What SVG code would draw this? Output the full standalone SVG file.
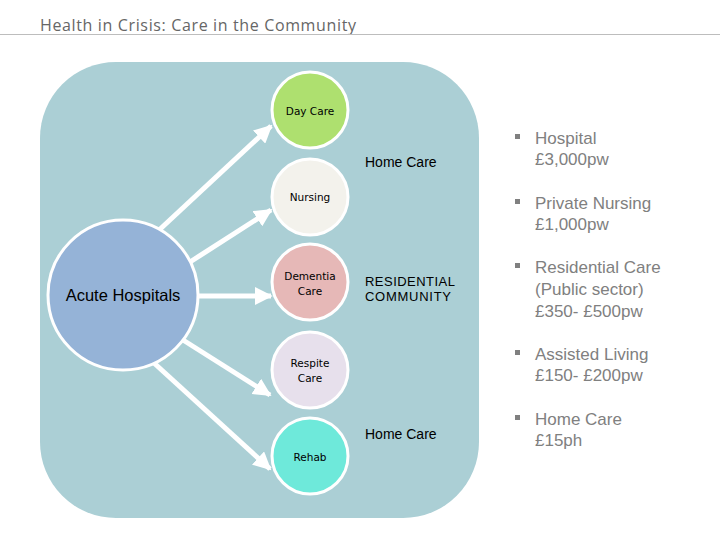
<svg xmlns="http://www.w3.org/2000/svg" width="720" height="540" viewBox="0 0 720 540">
<defs>
<style>
.node{stroke:#ffffff;stroke-width:3}
.lbl{font-family:"DejaVu Sans",Verdana,sans-serif;font-size:10.5px;fill:#000;text-anchor:middle}
.mid{font-family:"Liberation Sans",Arial,sans-serif;font-size:14px;fill:#000}
.res{font-family:"Liberation Sans",Arial,sans-serif;font-size:13px;fill:#000}
.bul{font-family:"Liberation Sans",Arial,sans-serif;font-size:17px;fill:#808080}
.conn line{stroke:#ffffff;stroke-width:5}
</style>
<marker id="ah" viewBox="0 0 10 10" refX="9" refY="5" markerWidth="3.6" markerHeight="3.6" orient="auto" markerUnits="strokeWidth">
<path d="M0,0 L10,5 L0,10 z" fill="#ffffff"/>
</marker>
</defs>
<rect width="720" height="540" fill="#ffffff"/>
<text x="40" y="31" font-family="'Open Sans','Liberation Sans',sans-serif" font-size="16" fill="#666666" textLength="316">Health in Crisis: Care in the Community</text>
<line x1="0" y1="34.5" x2="720" y2="34.5" stroke="#bdbdbd" stroke-width="1"/>
<rect id="background" x="40" y="62" width="439" height="456" rx="76" ry="76" fill="#abcfd5"/>
<g id="connectors" class="conn">
<line x1="157" y1="232" x2="271" y2="126" marker-end="url(#ah)"/>
<line x1="190" y1="262" x2="271" y2="210" marker-end="url(#ah)"/>
<line x1="199" y1="296" x2="271" y2="296" marker-end="url(#ah)"/>
<line x1="183" y1="340" x2="270" y2="395" marker-end="url(#ah)"/>
<line x1="154" y1="363" x2="270" y2="469" marker-end="url(#ah)"/>
</g>
<g id="acute"><circle class="node" cx="123" cy="295" r="75" fill="#95b3d7"/><text x="123" y="301" font-family="'Liberation Sans',Arial,sans-serif" font-size="16.5" text-anchor="middle" fill="#000">Acute Hospitals</text></g>
<g id="daycare"><circle class="node" cx="310" cy="110" r="38" fill="#aee06f"/><text class="lbl" x="310" y="115">Day Care</text></g>
<g id="nursing"><circle class="node" cx="310" cy="197" r="38" fill="#f3f2ec"/><text class="lbl" x="310" y="201">Nursing</text></g>
<g id="dementia"><circle class="node" cx="310" cy="282" r="38" fill="#e6b8b7"/><text class="lbl" x="310" y="280">Dementia</text><text class="lbl" x="310" y="295">Care</text></g>
<g id="respite"><circle class="node" cx="310" cy="370" r="38" fill="#e7e0ec"/><text class="lbl" x="310" y="367">Respite</text><text class="lbl" x="310" y="382">Care</text></g>
<g id="rehab"><circle class="node" cx="310" cy="456" r="38" fill="#6ee9da"/><text class="lbl" x="310" y="461">Rehab</text></g>
<g id="labels">
<text class="mid" x="365" y="167">Home Care</text>
<text class="res" x="365" y="286" textLength="90">RESIDENTIAL</text>
<text class="res" x="365" y="301" textLength="86">COMMUNITY</text>
<text class="mid" x="365" y="439">Home Care</text>
</g>
<g id="costs">
<rect x="515" y="134" width="5" height="5" fill="#808080"/>
<text class="bul" x="535" y="144">Hospital</text>
<text class="bul" x="535" y="165">£3,000pw</text>
<rect x="515" y="199" width="5" height="5" fill="#808080"/>
<text class="bul" x="535" y="209">Private Nursing</text>
<text class="bul" x="535" y="230">£1,000pw</text>
<rect x="515" y="263" width="5" height="5" fill="#808080"/>
<text class="bul" x="535" y="273">Residential Care</text>
<text class="bul" x="535" y="295">(Public sector)</text>
<text class="bul" x="535" y="317">£350- £500pw</text>
<rect x="515" y="350" width="5" height="5" fill="#808080"/>
<text class="bul" x="535" y="360">Assisted Living</text>
<text class="bul" x="535" y="381">£150- £200pw</text>
<rect x="515" y="415" width="5" height="5" fill="#808080"/>
<text class="bul" x="535" y="425">Home Care</text>
<text class="bul" x="535" y="446">£15ph</text>
</g>
</svg>
